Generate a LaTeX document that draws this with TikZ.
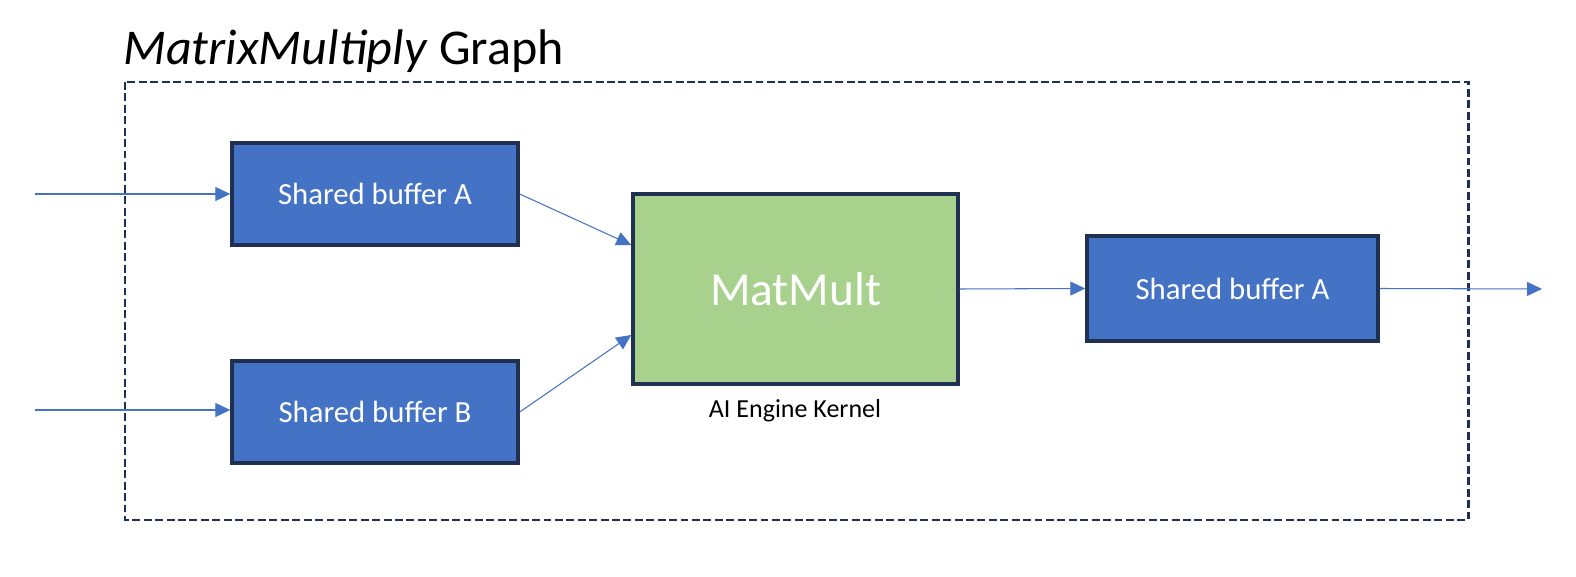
\documentclass[tikz,border=0pt]{standalone}
\usepackage{fontspec}
\setmainfont{Carlito}
\usetikzlibrary{arrows.meta}
\definecolor{bufblue}{HTML}{4472C4}
\definecolor{bufedge}{HTML}{1F3050}
\definecolor{kerngreen}{HTML}{A9D18E}
\begin{document}
\begin{tikzpicture}[x=0.02cm,y=-0.02cm,
    buffer/.style={draw=bufedge,fill=bufblue,line width=2pt,text=white,font=\fontsize{17.5}{20}\selectfont,minimum width=5.72cm,minimum height=2.04cm},
    kernel/.style={draw=bufedge,fill=kerngreen,line width=2pt,text=white,font=\fontsize{27}{30}\selectfont,minimum width=6.5cm,minimum height=3.8cm},
    link/.style={draw=bufblue,line width=0.6pt,-{Triangle[length=0.3cm,width=0.28cm]}}]
                \useasboundingbox (0,0) rectangle (1576,577);
                \draw[bufedge,line width=1.7pt,dash pattern=on 4.5pt off 2pt] (125,82) rectangle (1468,520);
                \node[anchor=base west,inner sep=0,font=\fontsize{28.5}{32}\selectfont] (title) at (123,65) {\textit{MatrixMultiply} Graph};

                \node[buffer] (bufA) at (375,194) {Shared buffer A};
                \node[buffer] (bufB) at (375,412) {Shared buffer B};
                \node[kernel] (mm) at (795.5,289) {MatMult};
                \node[buffer,minimum width=5.82cm,minimum height=2.1cm] (outbuf) at (1232.5,288.5) {Shared buffer A};
                \node[font=\fontsize{14.8}{17}\selectfont] (kname) at (795,411) {AI Engine Kernel};

                \coordinate (inA) at (35,194);
                \coordinate (inB) at (35,410);
                \coordinate (out) at (1542,289);

                \draw[link] (inA) -- (bufA.west);
                \draw[link] (inB) -- (bufB.west |- inB);
                \draw[link] (bufA.east) -- ([yshift=0.88cm]mm.west);
                \draw[link] (bufB.east) -- ([yshift=-0.92cm]mm.west);
                \draw[link] (mm.east) -- (outbuf.west);
                \draw[link] (outbuf.east) -- (out);
            \end{tikzpicture}
\end{document}
